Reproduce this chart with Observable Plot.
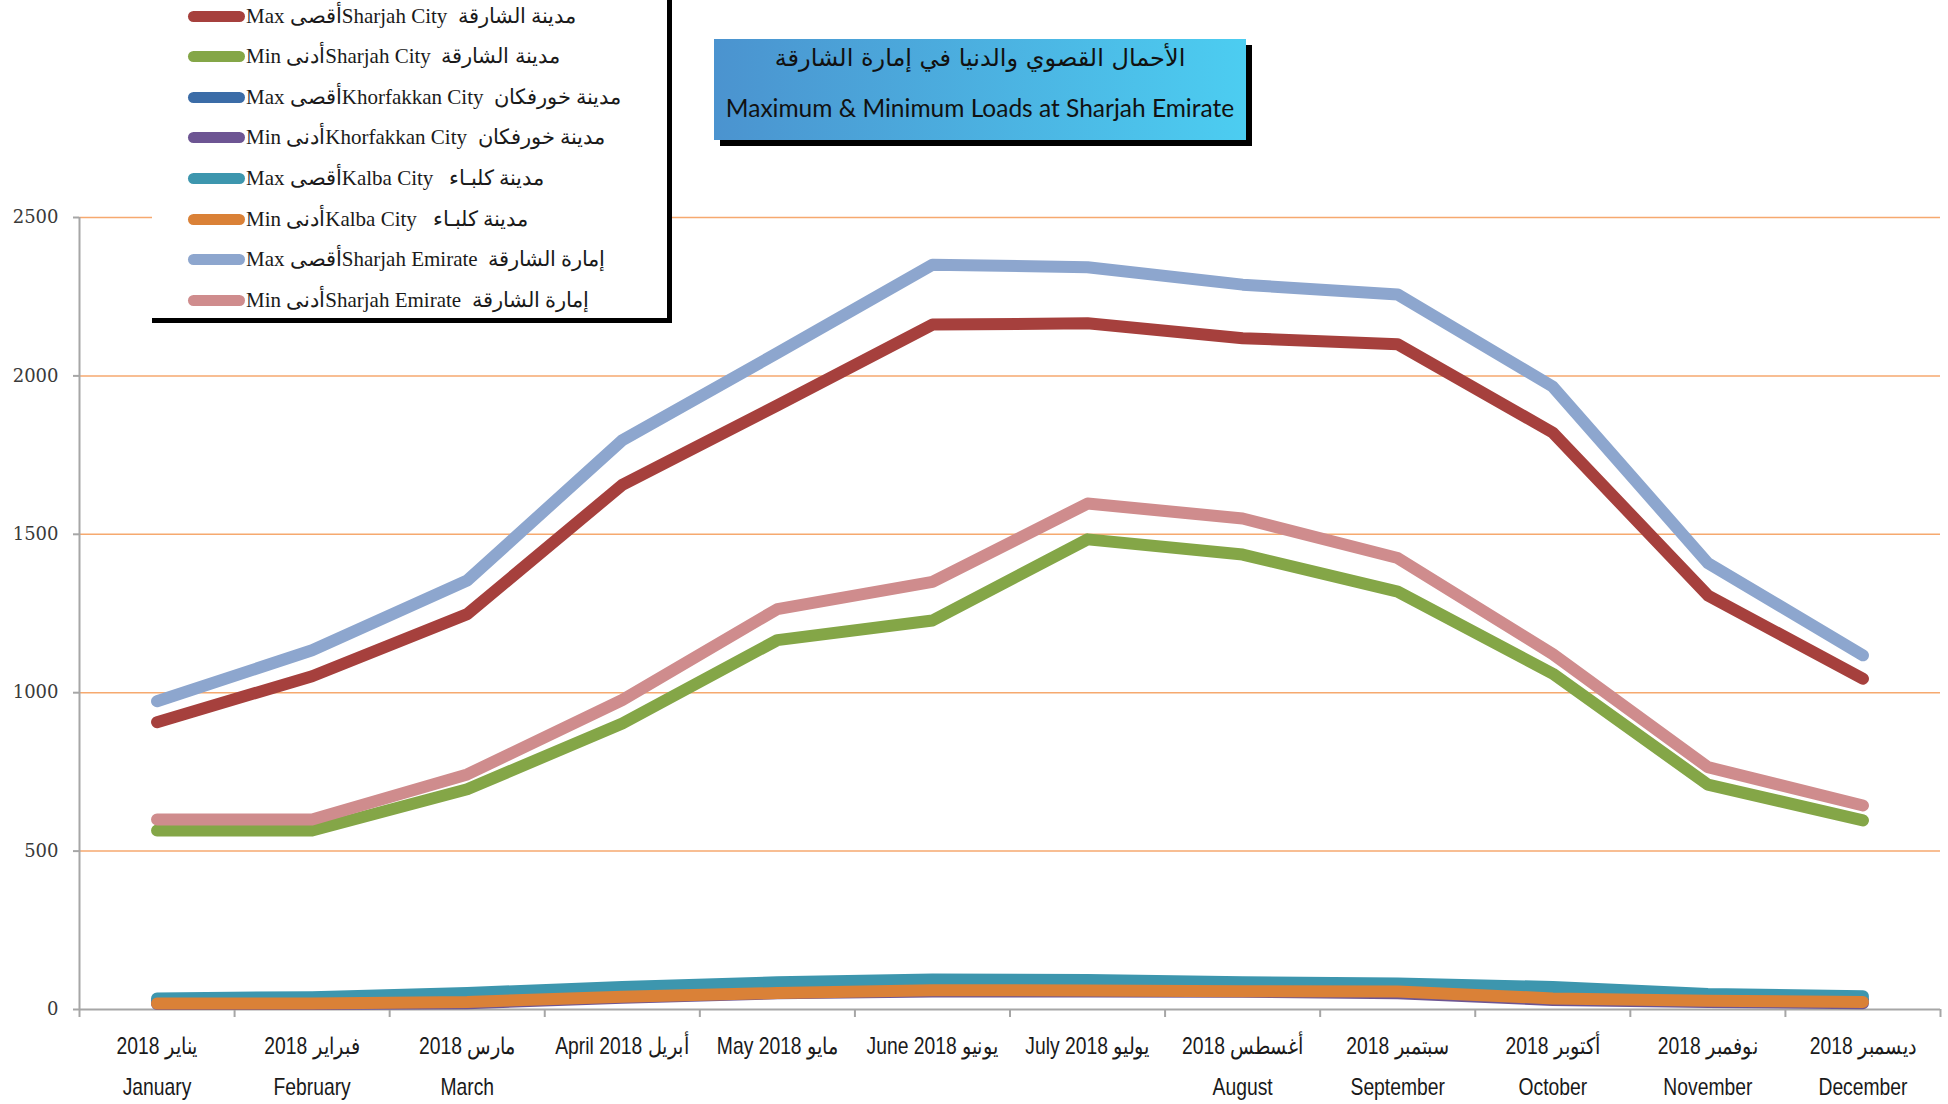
<!DOCTYPE html>
<html><head><meta charset="utf-8">
<script src="https://cdn.jsdelivr.net/npm/d3@7"></script>
<script src="https://cdn.jsdelivr.net/npm/@observablehq/plot@0.6"></script>
<style>
body{margin:0;background:#fff;}
#wrap{position:relative;width:1948px;height:1104px;overflow:hidden;background:#fff;}
#chart{position:absolute;left:0;top:0;}
#legend{position:absolute;left:152px;top:-10px;width:515px;height:328px;background:#fff;border-right:5px solid #000;border-bottom:5px solid #000;}
.row{position:absolute;left:36px;height:30px;display:flex;align-items:center;font-family:'Liberation Serif',serif;font-size:21px;color:#1a1a1a;white-space:pre;}
.sw{width:57px;height:11px;border-radius:6px;margin-right:1px;flex:none;}
#title{position:absolute;left:714px;top:39px;width:532px;height:101px;background:linear-gradient(to right,#4b93cf,#4ccdf1);box-shadow:6px 6px 0 #000;text-align:center;color:#111;}
#t1{position:absolute;left:0;right:0;top:0px;line-height:38px;font-size:24px;font-family:'DejaVu Sans',sans-serif;}
#t2{position:absolute;left:0;right:0;top:52px;line-height:34px;font-size:24.5px;font-family:Lato,sans-serif;}
</style></head>
<body>
<div id="wrap">
  <div id="chart"></div>
  <div id="legend"></div>
  <div id="title"><div id="t1"></div><div id="t2"></div></div>
</div>
<script>
const labelTop = ["2018 يناير","2018 فبراير","2018 مارس","April 2018 أبريل","May 2018 مايو","June 2018 يونيو","July 2018 يوليو","2018 أغسطس","2018 سبتمبر","2018 أكتوبر","2018 نوفمبر","2018 ديسمبر"];
const labelBottom = ["January","February","March","","","","","August","September","October","November","December"];

const maxSharjahCity = [907,1052,1248,1656,1907,2162,2166,2119,2100,1821,1307,1044];
const minSharjahCity = [565,565,695,903,1166,1228,1484,1436,1319,1060,710,597];
const maxKhorfakkan  = [28,29,36,55,68,78,77,72,70,55,38,32];
const minKhorfakkan  = [17,17,20,37,51,57,57,56,51,30,24,20];
const maxKalba       = [35,39,52,71,86,95,93,86,82,71,49,42];
const minKalba       = [19,19,24,40,52,61,60,58,57,35,28,24];
const maxEmirate     = [973,1134,1354,1797,2072,2351,2343,2288,2257,1966,1409,1118];
const minEmirate     = [600,600,742,977,1264,1350,1597,1550,1425,1122,765,644];

const seriesNames = [
  "Max أقصىSharjah City  مدينة الشارقة",
  "Min أدنىSharjah City  مدينة الشارقة",
  "Max أقصىKhorfakkan City  مدينة خورفكان",
  "Min أدنىKhorfakkan City  مدينة خورفكان",
  "Max أقصىKalba City   مدينة كلبـاء",
  "Min أدنىKalba City   مدينة كلبـاء",
  "Max أقصىSharjah Emirate  إمارة الشارقة",
  "Min أدنىSharjah Emirate  إمارة الشارقة"
];
const seriesColors = ["#a6403d","#84a647","#3b6ca7","#6d5593","#3d96ae","#da8137","#8da6ce","#cf8c8d"];
const seriesValues = [maxSharjahCity,minSharjahCity,maxKhorfakkan,minKhorfakkan,maxKalba,minKalba,maxEmirate,minEmirate];
const yTicks = [0,500,1000,1500,2000,2500];
const titleAr = "الأحمال القصوي والدنيا في إمارة الشارقة";
const titleEn = "Maximum & Minimum Loads at Sharjah Emirate";

const idx = d3.range(labelTop.length);
const lineMarks = seriesValues.map((vals, k) => Plot.line(vals, {
  x: (d, i) => i, y: d => d, stroke: seriesColors[k], strokeWidth: 12,
  strokeLinecap: "round", strokeLinejoin: "round", curve: "linear"
}));

const labelFont = "'Liberation Sans',sans-serif";
const chart = Plot.plot({
  width: 1948, height: 1104,
  marginLeft: 79, marginRight: 8, marginTop: 217, marginBottom: 95,
  style: {background: "transparent", overflow: "visible"},
  x: {type: "linear", domain: [-0.5, 11.5]},
  y: {domain: [0, 2500]},
  marks: [
    Plot.gridY(yTicks.filter(d => d > 0), {stroke: "#f6a96f", strokeOpacity: 1, strokeWidth: 1.5}),
    Plot.axisY(yTicks, {tickSize: 6, tickFormat: () => "", stroke: "#a6a6a6", strokeWidth: 2}),
    Plot.axisY(yTicks, {tickSize: 0, tickPadding: 21, tickFormat: d => String(d), fontSize: 18, fontFamily: "'DejaVu Serif',serif", fill: "#3a3a3a"}),
    Plot.axisX(d3.range(-0.5, 12, 1), {tickSize: 8, tickFormat: () => "", stroke: "#a6a6a6", strokeWidth: 2}),
    Plot.ruleY([0], {stroke: "#a6a6a6", strokeWidth: 2}),
    Plot.ruleX([-0.5], {stroke: "#a6a6a6", strokeWidth: 2}),
    ...lineMarks,
    Plot.text(idx, {x: i => i, y: 0, text: i => labelTop[i], dy: 37, fontSize: 23, fontFamily: labelFont, fill: "#1a1a1a", lineAnchor: "middle"}),
    Plot.text(idx, {x: i => i, y: 0, text: i => labelBottom[i], dy: 78, fontSize: 23, fontFamily: labelFont, fill: "#1a1a1a", lineAnchor: "middle"})
  ]
});
// condense the month labels horizontally, like the narrow face of the original
d3.select(chart).selectAll('g[aria-label="text"] text').each(function() {
  const t = this.getAttribute("transform") || "";
  this.setAttribute("transform", t + " scale(0.84,1)");
});
document.getElementById("chart").appendChild(chart);

const legend = document.getElementById("legend");
seriesNames.forEach((name, k) => {
  const row = document.createElement("div");
  row.className = "row";
  row.style.top = (10 + 16 + 40.6 * k - 15) + "px";
  const sw = document.createElement("div");
  sw.className = "sw";
  sw.style.background = seriesColors[k];
  const tx = document.createElement("span");
  tx.textContent = name;
  row.appendChild(sw); row.appendChild(tx);
  legend.appendChild(row);
});
document.getElementById("t1").textContent = titleAr;
document.getElementById("t2").textContent = titleEn;
</script>
</body></html>
